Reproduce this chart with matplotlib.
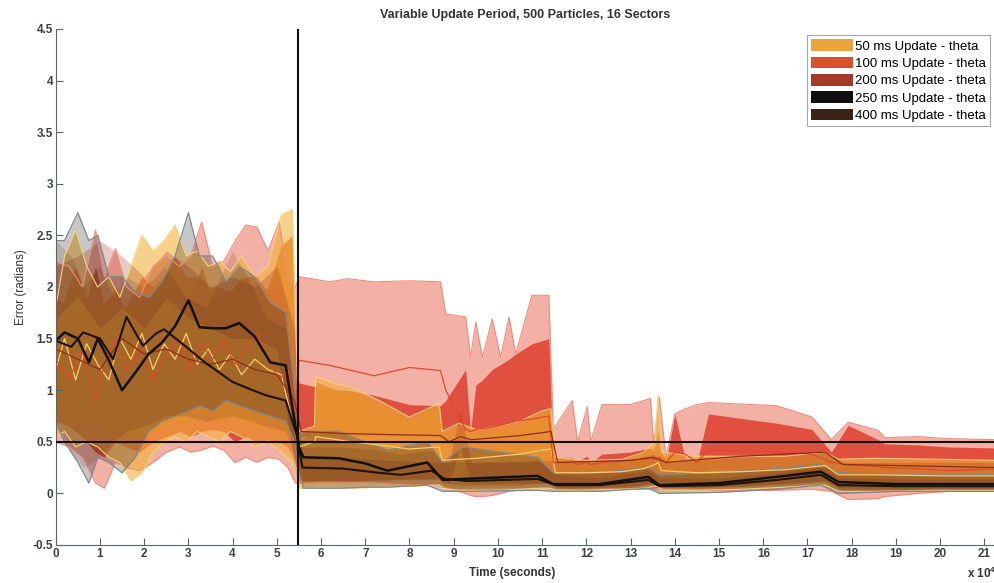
import matplotlib
matplotlib.use("Agg")
import matplotlib.pyplot as plt
from matplotlib.patches import Patch

plt.rcParams["font.family"] = ["Liberation Sans", "DejaVu Sans"]
plt.rcParams["mathtext.default"] = "regular"

# time in units of 1e4 seconds
t50 = [0, 0.2, 0.45, 0.7, 0.95, 1.2, 1.45, 1.7, 1.95, 2.2, 2.45, 2.7, 2.95, 3.2, 3.45, 3.7, 3.95, 4.2, 4.5, 4.8, 5.1, 5.35,
       5.5, 5.85, 5.88, 6.37, 6.67, 7.31, 7.99, 8.67, 8.74, 9.12, 9.5, 10.0, 10.5, 11.0, 11.2, 11.3,
       12.0, 12.8, 13.3, 13.55, 13.62, 13.7, 14.5, 15.5, 16.5, 17.4, 17.7, 18.5, 20.0, 21.3]
out_hi50 = [1.8, 2.3, 2.55, 2.2, 2.0, 2.1, 1.9, 2.2, 2.5, 2.35, 2.45, 2.6, 2.3, 2.35, 2.2, 2.25, 2.15, 2.3, 2.1, 2.2, 2.7, 2.75,
            0.6, 0.65, 1.13, 1.06, 1.03, 0.9, 0.74, 0.87, 0.6, 0.68, 0.62, 0.65, 0.7, 0.8, 0.82, 0.35,
            0.32, 0.33, 0.4, 0.5, 0.95, 0.4, 0.36, 0.36, 0.36, 0.4, 0.33, 0.34, 0.33, 0.32]
in_hi50 = [1.5, 1.9, 2.2, 1.9, 1.8, 1.9, 1.7, 1.9, 2.1, 2.0, 2.1, 2.3, 2.1, 2.1, 2.0, 2.0, 1.95, 2.1, 1.9, 2.0, 2.4, 2.5,
           0.5, 0.6, 1.08, 1.0, 0.98, 0.86, 0.7, 0.84, 0.55, 0.62, 0.57, 0.6, 0.65, 0.75, 0.78, 0.3,
           0.28, 0.3, 0.36, 0.45, 0.6, 0.36, 0.33, 0.33, 0.33, 0.36, 0.3, 0.3, 0.3, 0.29]
in_lo50 = [0.8, 0.75, 0.7, 0.7, 0.65, 0.6, 0.6, 0.55, 0.55, 0.6, 0.65, 0.7, 0.7, 0.75, 0.75, 0.7, 0.75, 0.7, 0.7, 0.7, 0.65, 0.5,
           0.1, 0.1, 0.12, 0.12, 0.12, 0.13, 0.14, 0.14, 0.1, 0.08, 0.08, 0.08, 0.08, 0.1, 0.1, 0.06,
           0.06, 0.07, 0.08, 0.1, 0.1, 0.06, 0.06, 0.07, 0.09, 0.12, 0.06, 0.05, 0.05, 0.05]
out_lo50 = [0.55, 0.6, 0.45, 0.5, 0.45, 0.35, 0.3, 0.12, 0.2, 0.4, 0.5, 0.55, 0.5, 0.6, 0.55, 0.5, 0.6, 0.55, 0.45, 0.5, 0.4, 0.3,
            0.05, 0.05, 0.05, 0.05, 0.05, 0.06, 0.07, 0.08, 0.05, 0.03, 0.03, 0.03, 0.04, 0.05, 0.05, 0.03,
            0.03, 0.04, 0.05, 0.07, 0.07, 0.03, 0.03, 0.04, 0.06, 0.08, 0.02, 0.02, 0.03, 0.03]
mean50 = [1.2, 1.5, 1.1, 1.45, 1.25, 1.1, 1.5, 1.3, 1.55, 1.2, 1.45, 1.3, 1.55, 1.25, 1.4, 1.2, 1.35, 1.15, 1.3, 1.2, 1.15, 0.7,
          0.45, 0.5, 0.55, 0.52, 0.5, 0.47, 0.43, 0.45, 0.32, 0.33, 0.34, 0.36, 0.38, 0.42, 0.43, 0.2,
          0.2, 0.21, 0.24, 0.28, 0.3, 0.22, 0.2, 0.21, 0.23, 0.27, 0.18, 0.18, 0.17, 0.17]

t100 = [0, 0.3, 0.6, 0.9, 1.1, 1.35, 1.6, 1.9, 2.2, 2.5, 2.8, 3.05, 3.3, 3.55, 3.8, 4.05, 4.3, 4.55, 4.8, 5.05, 5.25, 5.42,
        5.5, 6.2, 6.6, 7.2, 8.0, 8.7, 8.82, 9.27, 9.38, 9.5, 9.65, 9.87, 10.06, 10.25, 10.4, 10.77, 11.15, 11.25,
        11.68, 11.8, 12.02, 12.1, 12.35, 13.0, 13.45, 13.52, 13.65, 13.8, 14.0, 14.24, 14.5, 14.76, 16.3, 17.1, 17.54,
        17.92, 18.6, 18.75, 19.5, 20.2, 21.3]
out_hi100 = [2.25, 2.2, 2.0, 2.55, 2.1, 2.37, 2.0, 1.9, 2.2, 2.3, 2.2, 2.3, 2.63, 2.2, 2.25, 2.44, 2.6, 2.58, 2.35, 2.63, 2.1, 2.0,
             2.1, 2.05, 2.08, 2.05, 2.06, 2.05, 1.74, 1.71, 1.32, 1.66, 1.32, 1.69, 1.32, 1.71, 1.35, 1.92, 1.92, 0.62,
             0.9, 0.5, 0.84, 0.5, 0.86, 0.86, 0.92, 0.48, 0.93, 0.35, 0.77, 0.82, 0.86, 0.88, 0.85, 0.74, 0.52,
             0.69, 0.61, 0.54, 0.55, 0.53, 0.52]
out_lo100 = [0.5, 0.45, 0.35, 0.1, 0.05, 0.3, 0.25, 0.22, 0.3, 0.4, 0.45, 0.4, 0.42, 0.46, 0.42, 0.3, 0.35, 0.3, 0.35, 0.33, 0.25, 0.1,
             0.1, 0.1, 0.1, 0.1, 0.08, 0.08, 0.05, 0.0, -0.02, -0.03, -0.03, -0.02, 0.0, 0.02, 0.03, 0.05, 0.05, 0.04,
             0.03, 0.03, 0.03, 0.03, 0.04, 0.04, 0.04, 0.04, 0.05, 0.04, 0.04, 0.04, 0.03, 0.03, 0.03, 0.04, 0.02,
             -0.06, -0.05, -0.03, 0.0, 0.02, 0.02]
in_hi100 = [1.9, 1.8, 1.7, 2.2, 1.8, 2.0, 1.75, 1.7, 1.85, 1.9, 1.8, 1.9, 2.2, 1.85, 1.9, 2.0, 2.1, 2.1, 1.95, 2.2, 1.8, 1.4,
            1.07, 1.0, 1.0, 0.95, 0.86, 0.85, 0.9, 1.2, 0.6, 1.05, 1.1, 1.2, 1.25, 1.3, 1.35, 1.45, 1.5, 0.35,
            0.35, 0.32, 0.36, 0.3, 0.38, 0.4, 0.44, 0.4, 0.45, 0.3, 0.77, 0.32, 0.3, 0.77, 0.68, 0.62, 0.4,
            0.66, 0.52, 0.48, 0.47, 0.45, 0.44]
in_lo100 = [0.7, 0.65, 0.55, 0.4, 0.35, 0.5, 0.45, 0.4, 0.5, 0.55, 0.6, 0.55, 0.6, 0.62, 0.6, 0.5, 0.55, 0.5, 0.52, 0.5, 0.45, 0.3,
            0.55, 0.55, 0.55, 0.55, 0.55, 0.55, 0.5, 0.2, 0.2, 0.2, 0.2, 0.2, 0.2, 0.2, 0.2, 0.2, 0.2, 0.15,
            0.12, 0.12, 0.12, 0.12, 0.12, 0.12, 0.12, 0.12, 0.12, 0.12, 0.25, 0.15, 0.15, 0.25, 0.2, 0.2, 0.12,
            0.1, 0.1, 0.1, 0.1, 0.1, 0.1]
mean100 = [1.3, 1.1, 1.4, 0.9, 1.25, 1.5, 1.2, 1.4, 1.1, 1.35, 1.5, 1.2, 1.45, 1.3, 1.5, 1.25, 1.4, 1.55, 1.3, 1.1, 1.2, 0.8,
           1.29, 1.24, 1.2, 1.14, 1.22, 1.19, 1.0, 0.62, 0.6, 0.62, 0.63, 0.64, 0.66, 0.68, 0.7, 0.72, 0.75, 0.3,
           0.3, 0.28, 0.3, 0.28, 0.3, 0.32, 0.34, 0.33, 0.35, 0.3, 0.4, 0.38, 0.3, 0.42, 0.4, 0.38, 0.3,
           0.28, 0.26, 0.25, 0.24, 0.22, 0.24]

t200 = [0, 0.5, 1.0, 1.5, 2.0, 2.5, 3.0, 3.5, 4.0, 4.5, 5.0, 5.4,
        5.55, 6.5, 7.5, 8.7, 8.9, 9.15, 9.4, 10.5, 11.2,
        11.35, 13.0, 13.5, 13.8, 15.5, 17.4, 17.8, 21.3]
hi200 = [2.2, 2.3, 2.45, 2.3, 2.1, 2.35, 2.2, 2.0, 2.1, 2.0, 2.2, 1.6,
         0.35, 0.35, 0.32, 0.3, 0.3, 0.8, 0.3, 0.3, 0.32,
         0.3, 0.32, 0.38, 0.3, 0.35, 0.4, 0.3, 0.3]
lo200 = [1.7, 1.9, 1.6, 1.8, 1.6, 1.9, 1.7, 1.6, 1.5, 1.5, 1.4, 0.3,
         0.12, 0.12, 0.13, 0.14, 0.1, 0.45, 0.1, 0.1, 0.1,
         0.05, 0.06, 0.1, 0.05, 0.07, 0.12, 0.02, 0.03]
mean200 = [1.4, 1.3, 1.2, 1.5, 1.35, 1.4, 1.3, 1.25, 1.3, 1.2, 1.15, 0.9,
           0.6, 0.58, 0.57, 0.56, 0.5, 0.55, 0.52, 0.56, 0.6,
           0.3, 0.32, 0.35, 0.3, 0.36, 0.4, 0.28, 0.25]

t250 = [0, 0.2, 0.5, 0.75, 0.95, 1.2, 1.5, 1.8, 2.1, 2.4, 2.7, 3.0, 3.25, 3.55, 3.85, 4.15, 4.5, 4.85, 5.2, 5.4,
        5.5, 5.6, 6.4, 7.0, 7.5, 8.4, 8.75, 9.2, 10.9, 11.25,
        12.3, 13.4, 13.65, 15.0, 16.3, 17.3, 17.7, 19.0, 21.3]
hi250 = [2.45, 2.45, 2.72, 2.45, 2.5, 2.1, 2.1, 1.95, 1.9, 2.05, 2.3, 2.72, 2.3, 2.3, 2.05, 2.2, 2.1, 1.85, 1.75, 1.0,
         0.55, 0.6, 0.6, 0.5, 0.42, 0.5, 0.3, 0.45, 0.35, 0.2,
         0.2, 0.25, 0.18, 0.2, 0.24, 0.28, 0.2, 0.18, 0.18]
lo250 = [0.68, 0.5, 0.3, 0.1, 0.35, 0.3, 0.2, 0.35, 0.6, 0.7, 0.75, 0.8, 0.85, 0.8, 0.9, 0.85, 0.8, 0.75, 0.7, 0.5,
         0.2, 0.05, 0.05, 0.06, 0.06, 0.08, 0.02, 0.02, 0.03, 0.02,
         0.02, 0.05, 0.0, 0.01, 0.04, 0.08, 0.0, 0.02, 0.02]
mean250 = [1.48, 1.56, 1.5, 1.27, 1.5, 1.29, 1.0, 1.17, 1.35, 1.46, 1.62, 1.87, 1.61, 1.6, 1.6, 1.65, 1.52, 1.27, 1.24, 0.7,
           0.45, 0.35, 0.34, 0.29, 0.22, 0.3, 0.13, 0.14, 0.17, 0.09,
           0.09, 0.16, 0.08, 0.1, 0.16, 0.21, 0.11, 0.09, 0.09]

t400 = [0, 0.35, 0.62, 1.0, 1.3, 1.6, 1.97, 2.27, 2.45, 2.95, 3.4, 4.0, 4.45, 4.76, 5.2, 5.46,
        5.58, 6.5, 7.3, 7.8, 8.5, 8.8, 9.3, 10.9, 11.3,
        12.3, 13.4, 13.65, 15.0, 16.3, 17.3, 17.7, 19.0, 21.3]
hi400 = [2.45, 2.3, 2.0, 2.2, 1.9, 2.1, 2.0, 2.1, 2.2, 1.9, 1.8, 2.35, 2.0, 1.7, 1.6, 0.8,
         0.45, 0.45, 0.42, 0.38, 0.42, 0.3, 0.3, 0.32, 0.18,
         0.15, 0.22, 0.15, 0.15, 0.2, 0.25, 0.15, 0.14, 0.14]
lo400 = [0.7, 0.4, 0.25, 0.35, 0.5, 0.6, 0.65, 0.7, 0.75, 0.75, 0.7, 0.75, 0.7, 0.65, 0.6, 0.3,
         0.12, 0.12, 0.1, 0.08, 0.08, 0.05, 0.05, 0.06, 0.03,
         0.03, 0.06, 0.02, 0.03, 0.06, 0.1, 0.03, 0.03, 0.03]
mean400 = [1.48, 1.42, 1.56, 1.5, 1.3, 1.71, 1.43, 1.55, 1.59, 1.42, 1.26, 1.08, 1.0, 0.95, 0.9, 0.55,
           0.25, 0.24, 0.2, 0.18, 0.22, 0.14, 0.12, 0.14, 0.08,
           0.08, 0.13, 0.07, 0.08, 0.13, 0.18, 0.08, 0.07, 0.07]

labels = ["50 ms Update - theta", "100 ms Update - theta", "200 ms Update - theta",
          "250 ms Update - theta", "400 ms Update - theta"]
legend_colors = ["#EBA53C", "#D9512C", "#A53A28", "#0E0E0E", "#3B2216"]

switch_time = 5.47
threshold = 0.5

fig = plt.figure(figsize=(9.95, 5.83), dpi=100)
ax = fig.add_axes([0.056, 0.0652, 0.944, 0.8851])

# 100 ms: wide pink envelope, red inner band
ax.fill_between(t100, out_lo100, out_hi100, color="#E8624A", alpha=0.5, lw=0)
ax.fill_between(t100, in_lo100, in_hi100, color="#DE3F2E", alpha=0.85, lw=0)
ax.plot(t100, out_hi100, color="#F08C7C", lw=0.8)
ax.plot(t100, out_lo100, color="#F08C7C", lw=0.8)

# 50 ms: yellow envelope, orange inner band
ax.fill_between(t50, out_lo50, out_hi50, color="#F2B23A", alpha=0.6, lw=0)
ax.fill_between(t50, in_lo50, in_hi50, color="#E8902E", alpha=0.85, lw=0)
ax.plot(t50, out_hi50, color="#F6D27A", lw=0.8)
ax.plot(t50, out_lo50, color="#F6D27A", lw=0.8)

ax.fill_between(t200, lo200, hi200, color="#9C2F22", alpha=0.25, lw=0)
ax.fill_between(t250, lo250, hi250, color="#202020", alpha=0.25, lw=0)
ax.plot(t250, hi250, color="#7E8890", lw=0.9)
ax.plot(t250, lo250, color="#7E8890", lw=0.9)
ax.fill_between(t400, lo400, hi400, color="#4A2412", alpha=0.15, lw=0)

ax.plot(t50, mean50, color="#F5CF6A", lw=0.9)
ax.plot(t100, mean100, color="#E04A28", lw=0.9)
ax.plot(t200, mean200, color="#8E2E1E", lw=0.9)
ax.plot(t400, mean400, color="#1E120A", lw=1.5)
ax.plot(t250, mean250, color="#111111", lw=1.8)

ax.axvline(switch_time, color="#111111", lw=1.5, zorder=10)
ax.axhline(threshold, color="#111111", lw=1.5, zorder=10)

ax.set_xlim(0, 21.24)
ax.set_ylim(-0.5, 4.5)
ax.set_xticks(range(0, 22))
ax.set_yticks([-0.5, 0, 0.5, 1, 1.5, 2, 2.5, 3, 3.5, 4, 4.5])
ax.set_yticklabels(["-0.5", "0", "0.5", "1", "1.5", "2", "2.5", "3", "3.5", "4", "4.5"])

axis_color = "#55686A"
for side in ["top", "right"]:
    ax.spines[side].set_visible(False)
for side in ["left", "bottom"]:
    ax.spines[side].set_color(axis_color)
ax.tick_params(direction="in", length=5, color=axis_color, labelsize=8.5,
               labelcolor="#3A4242", pad=2)
for lbl in ax.get_xticklabels() + ax.get_yticklabels():
    lbl.set_fontweight("bold")

ax.set_title("Variable Update Period, 500 Particles, 16 Sectors", fontsize=9,
             color="#333333", fontweight="bold", pad=8)
ax.set_ylabel("Error (radians)", fontsize=8.5, color="#333333", labelpad=4)
ax.set_xlabel("Time (seconds)", fontsize=8.5, color="#333333", fontweight="bold", labelpad=1)
ax.xaxis.set_label_coords(0.486, -0.042)
fig.text(0.972, 0.008, r"x 10$^4$", fontsize=8.5, color="#333333", fontweight="bold")

handles = [Patch(facecolor=c, edgecolor="none") for c in legend_colors]
leg = ax.legend(handles, labels, loc="upper right", bbox_to_anchor=(0.995, 0.988),
                borderaxespad=0, fontsize=9.5, frameon=True, fancybox=False,
                handlelength=3.2, handleheight=1.0, labelspacing=0.3,
                handletextpad=0.2, borderpad=0.3, edgecolor="#8A9090")
leg.get_frame().set_linewidth(0.8)

fig.savefig("out.png", dpi=100)
